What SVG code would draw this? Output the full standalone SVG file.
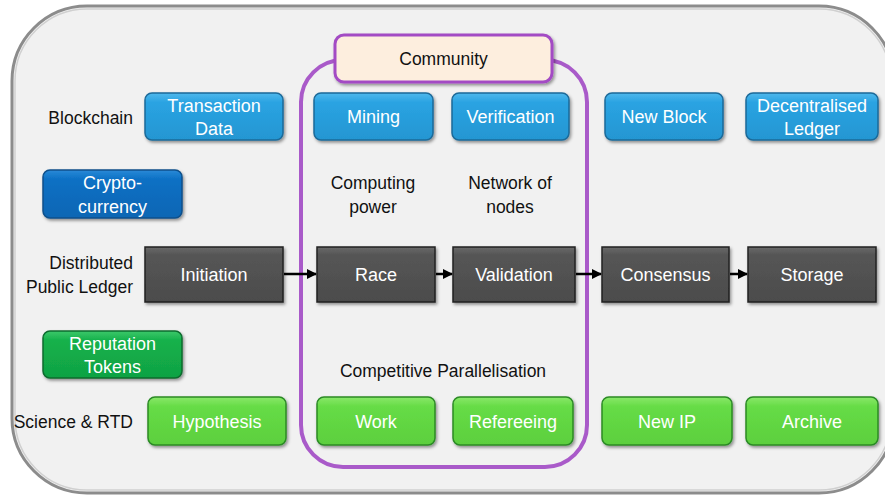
<svg xmlns="http://www.w3.org/2000/svg" width="885" height="498" viewBox="0 0 885 498">
<defs>
<style>
text{font-family:"Liberation Sans","Open Sans",sans-serif;}
.lbl{font-size:17.5px;fill:#111;}
.bt{font-size:18px;fill:#fff;text-anchor:middle;}
.blue{fill:url(#gBlue);stroke:#1d6a99;stroke-width:1.5;}
.dblue{fill:url(#gDBlue);stroke:#0b4f8a;stroke-width:1.5;}
.dark{fill:url(#gDark);stroke:#222;stroke-width:1.5;}
.rep{fill:url(#gRep);stroke:#0d6b2e;stroke-width:1.5;}
.green{fill:url(#gGreen);stroke:#2b8a25;stroke-width:1.5;}
.conn{stroke:#000;stroke-width:2.5;fill:none;marker-end:url(#arr);}
</style>
<linearGradient id="gBlue" x1="0" y1="0" x2="0" y2="1"><stop offset="0" stop-color="#4fb8ec"/><stop offset="0.2" stop-color="#2aa3e2"/><stop offset="1" stop-color="#2496d2"/></linearGradient>
<linearGradient id="gDBlue" x1="0" y1="0" x2="0" y2="1"><stop offset="0" stop-color="#2a8ad8"/><stop offset="0.2" stop-color="#0b70c4"/><stop offset="1" stop-color="#0866b4"/></linearGradient>
<linearGradient id="gDark" x1="0" y1="0" x2="0" y2="1"><stop offset="0" stop-color="#6a6a6a"/><stop offset="0.15" stop-color="#555"/><stop offset="1" stop-color="#4c4c4c"/></linearGradient>
<linearGradient id="gRep" x1="0" y1="0" x2="0" y2="1"><stop offset="0" stop-color="#3cc86a"/><stop offset="0.2" stop-color="#14b14b"/><stop offset="1" stop-color="#10a243"/></linearGradient>
<linearGradient id="gGreen" x1="0" y1="0" x2="0" y2="1"><stop offset="0" stop-color="#8ae86a"/><stop offset="0.2" stop-color="#66dc46"/><stop offset="1" stop-color="#5ccf3e"/></linearGradient>
<filter id="sh" x="-10%" y="-10%" width="125%" height="135%"><feDropShadow dx="1.5" dy="2" stdDeviation="1.5" flood-color="#000" flood-opacity="0.4"/></filter>
<marker id="arr" viewBox="0 0 10 10" refX="9" refY="5" markerWidth="4" markerHeight="4" orient="auto"><path d="M0,0 L10,5 L0,10 z" fill="#000"/></marker>
</defs>
<rect x="0" y="0" width="885" height="498" fill="#ffffff"/>
<rect x="12" y="6" width="882" height="487" rx="75" ry="75" fill="#f1f1f1" stroke="#8c8c8c" stroke-width="3"/>
<rect x="15" y="9" width="876" height="481" rx="72" ry="72" fill="none" stroke="#d0d0d0" stroke-width="1.5"/>

<g id="community-frame"><rect x="301" y="60" width="286" height="407" rx="42" ry="42" fill="none" stroke="#a95ac9" stroke-width="4"/></g>
<g id="community"><rect x="335" y="35" width="217" height="47" rx="9" fill="#fdeede" stroke="#a34cc4" stroke-width="3" filter="url(#sh)"/><text class="lbl" x="443.5" y="65" text-anchor="middle">Community</text></g>

<g id="row-labels">
<text class="lbl" x="133" y="124" text-anchor="end">Blockchain</text>
<text class="lbl" x="133" y="269" text-anchor="end">Distributed</text>
<text class="lbl" x="133" y="293" text-anchor="end">Public Ledger</text>
<text class="lbl" x="133" y="428" text-anchor="end">Science &amp; RTD</text>
<text class="lbl" x="373" y="189" text-anchor="middle">Computing</text>
<text class="lbl" x="373" y="213" text-anchor="middle">power</text>
<text class="lbl" x="510" y="189" text-anchor="middle">Network of</text>
<text class="lbl" x="510" y="213" text-anchor="middle">nodes</text>
<text class="lbl" x="443" y="377" text-anchor="middle">Competitive Parallelisation</text>
</g>

<g id="transaction-data"><rect class="blue" x="145" y="93" width="138" height="47" rx="7" filter="url(#sh)"/><text class="bt" x="214" y="112">Transaction</text><text class="bt" x="214" y="135">Data</text></g>
<g id="mining"><rect class="blue" x="314" y="93" width="119" height="47" rx="7" filter="url(#sh)"/><text class="bt" x="373.5" y="123">Mining</text></g>
<g id="verification"><rect class="blue" x="452" y="93" width="117" height="47" rx="7" filter="url(#sh)"/><text class="bt" x="510.5" y="123">Verification</text></g>
<g id="new-block"><rect class="blue" x="605" y="93" width="118" height="47" rx="7" filter="url(#sh)"/><text class="bt" x="664" y="123">New Block</text></g>
<g id="decentralised-ledger"><rect class="blue" x="746" y="93" width="132" height="47" rx="7" filter="url(#sh)"/><text class="bt" x="812" y="112">Decentralised</text><text class="bt" x="812" y="135">Ledger</text></g>

<g id="cryptocurrency"><rect class="dblue" x="43" y="170" width="139" height="48" rx="7" filter="url(#sh)"/><text class="bt" x="112.5" y="189">Crypto-</text><text class="bt" x="112.5" y="213">currency</text></g>

<g id="initiation"><rect class="dark" x="145" y="247" width="138" height="55" filter="url(#sh)"/><text class="bt" x="214" y="281">Initiation</text></g>
<g id="race"><rect class="dark" x="317" y="247" width="118" height="55" filter="url(#sh)"/><text class="bt" x="376" y="281">Race</text></g>
<g id="validation"><rect class="dark" x="453" y="247" width="122" height="55" filter="url(#sh)"/><text class="bt" x="514" y="281">Validation</text></g>
<g id="consensus"><rect class="dark" x="602" y="247" width="127" height="55" filter="url(#sh)"/><text class="bt" x="665.5" y="281">Consensus</text></g>
<g id="storage"><rect class="dark" x="748" y="247" width="128" height="55" filter="url(#sh)"/><text class="bt" x="812" y="281">Storage</text></g>

<g id="reputation-tokens"><rect class="rep" x="43" y="331" width="139" height="47" rx="7" filter="url(#sh)"/><text class="bt" x="112.5" y="350">Reputation</text><text class="bt" x="112.5" y="373">Tokens</text></g>

<g id="hypothesis"><rect class="green" x="148" y="397" width="138" height="48" rx="7" filter="url(#sh)"/><text class="bt" x="217" y="428">Hypothesis</text></g>
<g id="work"><rect class="green" x="317" y="397" width="118" height="48" rx="7" filter="url(#sh)"/><text class="bt" x="376" y="428">Work</text></g>
<g id="refereeing"><rect class="green" x="453" y="397" width="120" height="48" rx="7" filter="url(#sh)"/><text class="bt" x="513" y="428">Refereeing</text></g>
<g id="new-ip"><rect class="green" x="602" y="397" width="130" height="48" rx="7" filter="url(#sh)"/><text class="bt" x="667" y="428">New IP</text></g>
<g id="archive"><rect class="green" x="746" y="397" width="132" height="48" rx="7" filter="url(#sh)"/><text class="bt" x="812" y="428">Archive</text></g>

<g id="connectors">
<line class="conn" x1="284" y1="274" x2="316" y2="274"/>
<line class="conn" x1="436" y1="274" x2="452" y2="274"/>
<line class="conn" x1="576" y1="274" x2="601" y2="274"/>
<line class="conn" x1="730" y1="274" x2="747" y2="274"/>
</g>
</svg>
